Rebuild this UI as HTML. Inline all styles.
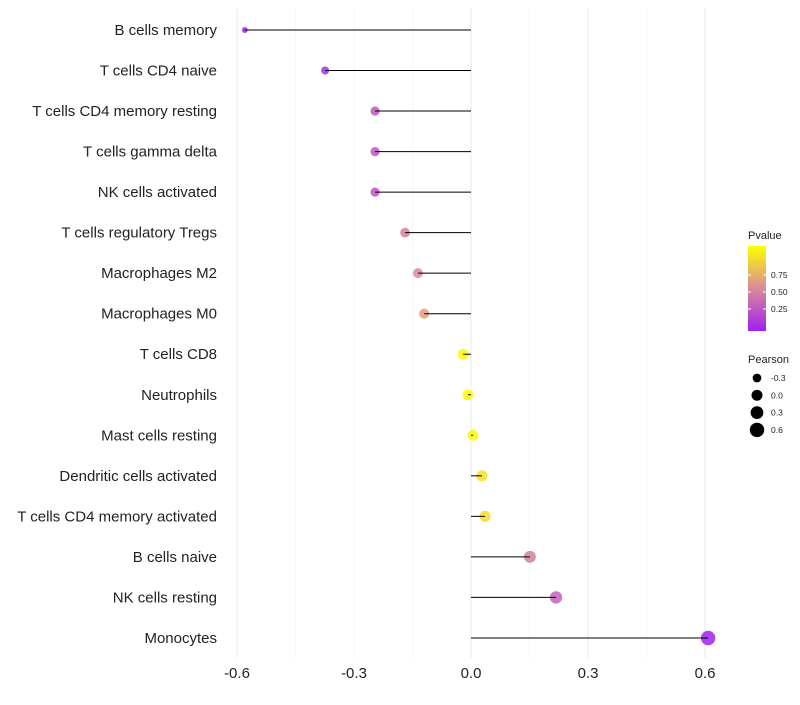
<!DOCTYPE html>
<html><head><meta charset="utf-8"><style>
body{margin:0;background:#fff;font-family:"Liberation Sans",sans-serif}
svg text{font-family:"Liberation Sans",sans-serif}
</style></head><body>
<svg id="chart" width="800" height="700"></svg>
<script>
const categories=["B cells memory","T cells CD4 naive","T cells CD4 memory resting","T cells gamma delta","NK cells activated","T cells regulatory  Tregs ","Macrophages M2","Macrophages M0","T cells CD8","Neutrophils","Mast cells resting","Dendritic cells activated","T cells CD4 memory activated","B cells naive","NK cells resting","Monocytes"];
const pearson=[-0.58,-0.374,-0.246,-0.246,-0.246,-0.169,-0.136,-0.12,-0.02,-0.008,0.005,0.028,0.036,0.151,0.218,0.608];
const pvalues=[0.02,0.05,0.25,0.25,0.25,0.45,0.5,0.6,0.97,0.99,0.98,0.88,0.86,0.45,0.3,0.01];
const xTicks=[-0.6,-0.3,0.0,0.3,0.6];
const xTickLabels=["-0.6","-0.3","0.0","0.3","0.6"];
const pTicks=[0.25,0.5,0.75];
const sizeLegend=[-0.3,0.0,0.3,0.6];

const NS="http://www.w3.org/2000/svg";
const svg=document.getElementById('chart');
function el(t,a,p){const e=document.createElementNS(NS,t);for(const k in a)e.setAttribute(k,a[k]);(p||svg).appendChild(e);return e;}
const x=v=>471+v*390;
const y=i=>30+i*40.53;
const r=v=>Math.sqrt(Math.max(3,30+36.7*v));
function lerp(a,b,t){return a.map((c,i)=>Math.round(c+(b[i]-c)*t));}
function col(p){const s0=[160,32,240],s1=[217,138,154],s2=[255,255,0];
 const c=p<0.5?lerp(s0,s1,p/0.5):lerp(s1,s2,(p-0.5)/0.5);return `rgb(${c.join(',')})`;}

for(let v=-0.6;v<=0.61;v+=0.15){const g=el('line',{x1:x(v),x2:x(v),y1:8,y2:658,stroke:'#ebebeb','stroke-width':Math.abs((v*100)%30)<1?1:0.5});
}
xTicks.forEach((v,i)=>{const t=el('text',{x:x(v),y:678,'text-anchor':'middle','font-size':15,fill:'#222'});t.textContent=xTickLabels[i];
});
categories.forEach((c,i)=>{
 const t=el('text',{x:217,y:y(i)+5,'text-anchor':'end','font-size':15,fill:'#222'});t.textContent=c;
 
 const d=el('circle',{cx:x(pearson[i]),cy:y(i),r:r(pearson[i]),fill:col(pvalues[i]),'fill-opacity':0.85});
 
 const l=el('line',{x1:x(0),x2:x(pearson[i]),y1:y(i),y2:y(i),stroke:'#000','stroke-width':1});
 
});
const defs=el('defs',{});
const lg=el('linearGradient',{id:'pg',x1:0,y1:1,x2:0,y2:0},defs);
[0,0.5,1].forEach(o=>el('stop',{offset:o,'stop-color':col(o)},lg));
const lt=el('text',{x:748,y:239,'font-size':11,fill:'#222'});lt.textContent='Pvalue';

const bar=el('rect',{x:748,y:246,width:18,height:85,fill:'url(#pg)'});

const py=p=>326-p*68;
pTicks.forEach(p=>{el('line',{x1:748,x2:751,y1:py(p),y2:py(p),stroke:'#fff'});el('line',{x1:763,x2:766,y1:py(p),y2:py(p),stroke:'#fff'});
 const t=el('text',{x:771,y:py(p)+3,'font-size':8.5,fill:'#222'});t.textContent=p.toFixed(2);
 });
const st=el('text',{x:748,y:363,'font-size':11,fill:'#222'});st.textContent='Pearson';

sizeLegend.forEach((v,i)=>{const cy=378+i*17.3;
 const c=el('circle',{cx:757,cy:cy,r:r(v),fill:'#000'});
 const t=el('text',{x:771,y:cy+3,'font-size':8.5,fill:'#222'});t.textContent=v.toFixed(1);
 });
</script>
</body></html>
